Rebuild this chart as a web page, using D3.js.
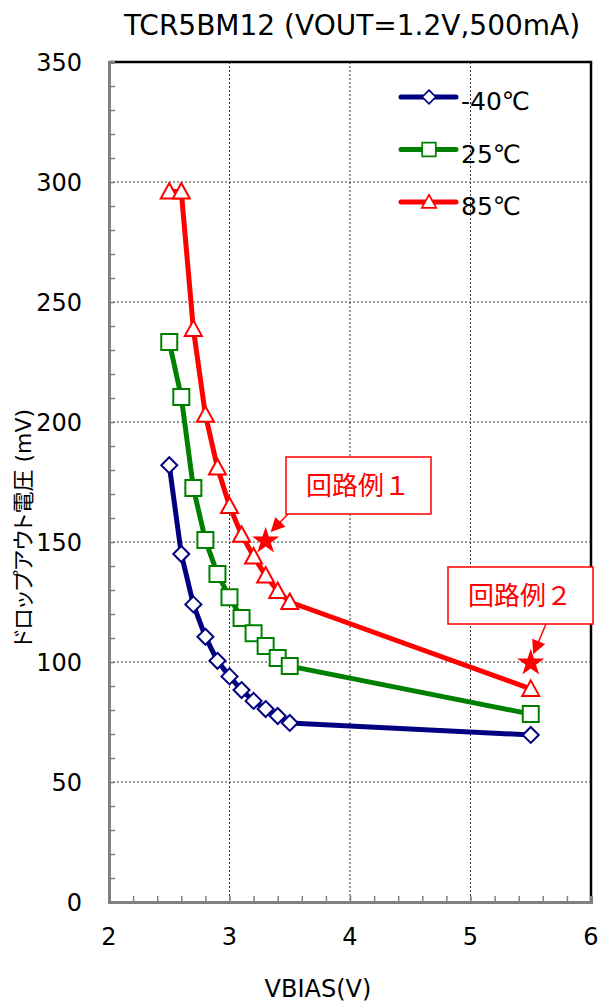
<!DOCTYPE html>
<html>
<head>
<meta charset="utf-8">
<script src="https://cdn.jsdelivr.net/npm/d3@7"></script>
<style>
  body { margin: 0; background: #fff; }
  text { font-family: "DejaVu Sans", Verdana, sans-serif; }
  .jp { font-family: "Noto Sans CJK JP", sans-serif; }
</style>
</head>
<body>
<div class="chart"></div>
<script>
// data
const vbias = [2.5, 2.6, 2.7, 2.8, 2.9, 3.0, 3.1, 3.2, 3.3, 3.4, 3.5, 5.5];
const dropM40 = [182, 145, 124, 110.5, 100.5, 94, 88.3, 83.8, 80.4, 77.5, 74.6, 69.6];
const drop25 = [233.3, 210.4, 172.5, 150.8, 136.7, 127, 118.3, 112, 106.7, 101.7, 98.3, 78.3];
const drop85 = [296, 296, 238.8, 203, 181, 165, 153, 144, 136, 129.6, 125, 88.8];
const seriesNames = ["-40℃", "25℃", "85℃"];
const callouts = [
  { label: "回路例１", x: 3.3, y: 150.4 },
  { label: "回路例２", x: 5.5, y: 99.6 }
];
const xTicks = [2, 3, 4, 5, 6];
const yTicks = [0, 50, 100, 150, 200, 250, 300, 350];

const W = 598, H = 1003;
const margin = { top: 62, right: 7, bottom: 101, left: 109 };
const width = W - margin.left - margin.right,
  height = H - margin.top - margin.bottom;

const colors = ["#000080", "#008000", "#ff0000"];
const shapes = ["diamond", "square", "triangle"];

const svg = d3.select(".chart").append("svg")
  .attr("width", W).attr("height", H);

svg.append("defs").append("marker")
  .attr("id", "arrow")
  .attr("viewBox", "0 0 10 10")
  .attr("refX", 9).attr("refY", 5)
  .attr("markerWidth", 16).attr("markerHeight", 14)
  .attr("markerUnits", "userSpaceOnUse")
  .attr("orient", "auto")
  .append("path").attr("d", "M0,0L10,5L0,10Z").attr("fill", "#ff0000");

const g = svg.append("g")
  .attr("transform", "translate(" + margin.left + "," + margin.top + ")");

const x = d3.scaleLinear().domain([2, 6]).range([0, width]);
const y = d3.scaleLinear().domain([0, 350]).range([height, 0]);

// grid
g.append("g").selectAll("line")
  .data(xTicks.slice(1, -1))
  .join("line")
  .attr("x1", d => x(d)).attr("x2", d => x(d))
  .attr("y1", 0).attr("y2", height)
  .attr("stroke", "#333").attr("stroke-width", 1)
  .attr("stroke-dasharray", "2,2");
g.append("g").selectAll("line")
  .data(yTicks.slice(1, -1))
  .join("line")
  .attr("x1", 0).attr("x2", width)
  .attr("y1", d => y(d)).attr("y2", d => y(d))
  .attr("stroke", "#333").attr("stroke-width", 1)
  .attr("stroke-dasharray", "2,2");

// top and right frame
g.append("path")
  .attr("d", `M0,0H${width}V${height}`)
  .attr("fill", "none").attr("stroke", "#000").attr("stroke-width", 2.5);

// axes with inward ticks
const xAxis = g.append("g").attr("transform", `translate(0,${height})`)
  .call(d3.axisBottom(x).tickValues(d3.range(2, 6.01, 0.2)).tickSize(-6).tickFormat(""));
const yAxis = g.append("g")
  .call(d3.axisLeft(y).tickValues(d3.range(0, 351, 10)).tickSize(-6).tickFormat(""));
[xAxis, yAxis].forEach(a => {
  a.select(".domain").attr("stroke", "#808080").attr("stroke-width", 3);
  a.selectAll(".tick line").attr("stroke", "#808080").attr("stroke-width", 1.5);
});

// tick labels
g.append("g").selectAll("text")
  .data(xTicks).join("text")
  .attr("x", d => x(d)).attr("y", height + 43)
  .attr("text-anchor", "middle")
  .attr("font-size", 24).text(d => d);
g.append("g").selectAll("text")
  .data(yTicks).join("text")
  .attr("x", -27).attr("y", d => y(d) + 9)
  .attr("text-anchor", "end")
  .attr("font-size", 24).text(d => d);

// axis titles
svg.append("text")
  .attr("x", 318).attr("y", 997)
  .attr("text-anchor", "middle").attr("font-size", 24)
  .text("VBIAS(V)");
const yTitle = svg.append("text")
  .attr("transform", "translate(31,528) rotate(-90)")
  .attr("text-anchor", "middle").attr("font-size", 22);
yTitle.append("tspan")
  .attr("class", "jp")
  .style("font-feature-settings", "'palt'")
  .text("ドロップアウト電圧");
yTitle.append("tspan").text(" (mV)");

// title
svg.append("text")
  .attr("x", 352).attr("y", 35)
  .attr("text-anchor", "middle").attr("font-size", 28)
  .text("TCR5BM12 (VOUT=1.2V,500mA)");

// marker shapes
function markerPath(shape) {
  if (shape === "diamond") return "M0,-8L8,0L0,8L-8,0Z";
  if (shape === "square") return "M-8,-8H8V8H-8Z";
  return "M0,-8.5L8.5,7H-8.5Z";
}

const allSeries = [dropM40, drop25, drop85];
const line = d3.line().x(d => x(d[0])).y(d => y(d[1]));

allSeries.forEach((vals, i) => {
  const pts = vbias.map((v, j) => [v, vals[j]]);
  g.append("path")
    .datum(pts)
    .attr("d", line)
    .attr("fill", "none")
    .attr("stroke", colors[i])
    .attr("stroke-width", 5)
    .attr("stroke-linejoin", "round");
  g.append("g").selectAll("path")
    .data(pts).join("path")
    .attr("transform", d => `translate(${x(d[0])},${y(d[1])})`)
    .attr("d", markerPath(shapes[i]))
    .attr("fill", "#fff")
    .attr("stroke", colors[i])
    .attr("stroke-width", 2);
});

// legend
const legend = g.append("g").attr("transform", "translate(292,35)");
seriesNames.forEach((name, i) => {
  const row = legend.append("g").attr("transform", `translate(0,${i * 52.5})`);
  row.append("line")
    .attr("x1", 0).attr("x2", 55)
    .attr("stroke", colors[i]).attr("stroke-width", 5)
    .attr("stroke-linecap", "round");
  row.append("path")
    .attr("transform", "translate(28,0) scale(0.85)")
    .attr("d", markerPath(shapes[i]))
    .attr("fill", "#fff").attr("stroke", colors[i]).attr("stroke-width", 2);
  row.append("text")
    .attr("x", 60).attr("y", 13)
    .attr("font-size", 25)
    .text(name);
});

// callouts: box + arrow + star
const boxes = [
  { bx: 177, by: 395, ax: 2 },
  { bx: 339, by: 505, ax: 98 }
];
callouts.forEach((c, i) => {
  const b = boxes[i];
  const sx = x(c.x), sy = y(c.y);
  g.append("rect")
    .attr("x", b.bx).attr("y", b.by)
    .attr("width", 145).attr("height", 57)
    .attr("fill", "#fff").attr("stroke", "#ff0000").attr("stroke-width", 1.5);
  g.append("text")
    .attr("class", "jp")
    .attr("x", b.bx + 72).attr("y", b.by + 38)
    .attr("text-anchor", "middle")
    .attr("font-size", 26).attr("fill", "#ff0000")
    .text(c.label);
  g.append("line")
    .attr("x1", b.bx + b.ax).attr("y1", b.by + 57)
    .attr("x2", sx + (i === 0 ? 6 : 3)).attr("y2", sy - 10)
    .attr("stroke", "#ff0000").attr("stroke-width", 1.5)
    .attr("marker-end", "url(#arrow)");
  g.append("path")
    .attr("transform", `translate(${sx},${sy})`)
    .attr("d", d3.symbol(d3.symbolStar, 230)())
    .attr("fill", "#ff0000");
});
</script>
</body>
</html>
